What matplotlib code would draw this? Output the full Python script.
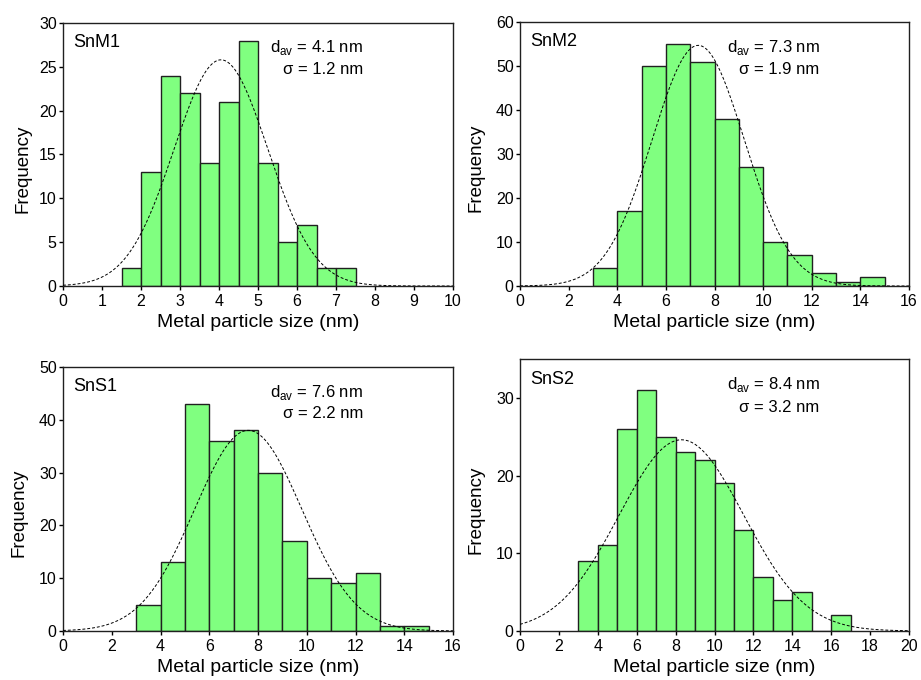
import numpy as np
import matplotlib
matplotlib.use("Agg")
import matplotlib.pyplot as plt

plt.rcParams['font.family'] = ['Liberation Sans', 'DejaVu Sans']

# ---- data ----
names = ["SnM1", "SnM2", "SnS1", "SnS2"]
d_av = ["4.1", "7.3", "7.6", "8.4"]
sigma_txt = ["1.2", "1.9", "2.2", "3.2"]

snm1_edges = [1.5, 2.0, 2.5, 3.0, 3.5, 4.0, 4.5, 5.0, 5.5, 6.0, 6.5, 7.0, 7.5]
snm1_counts = [2, 13, 24, 22, 14, 21, 28, 14, 5, 7, 2, 2]

snm2_edges = [3, 4, 5, 6, 7, 8, 9, 10, 11, 12, 13, 14, 15]
snm2_counts = [4, 17, 50, 55, 51, 38, 27, 10, 7, 3, 1, 2]

sns1_edges = [3, 4, 5, 6, 7, 8, 9, 10, 11, 12, 13, 14, 15]
sns1_counts = [5, 13, 43, 36, 38, 30, 17, 10, 9, 11, 1, 1]

sns2_edges = [3, 4, 5, 6, 7, 8, 9, 10, 11, 12, 13, 14, 15, 16, 17]
sns2_counts = [9, 11, 26, 31, 25, 23, 22, 19, 13, 7, 4, 5, 0, 2]

# gaussian fit parameters (mean, sigma, amplitude)
fit_mean = [4.05, 7.33, 7.6, 8.3]
fit_sigma = [1.2, 1.9, 2.2, 3.2]
fit_amp = [25.8, 54.7, 38.0, 24.6]

xlims = [(0, 10), (0, 16), (0, 16), (0, 20)]
xticks = [list(range(0, 11, 1)), list(range(0, 17, 2)), list(range(0, 17, 2)), list(range(0, 21, 2))]
ylims = [(0, 30), (0, 60), (0, 50), (0, 35)]
yticks = [list(range(0, 31, 5)), list(range(0, 61, 10)), list(range(0, 51, 10)), [0, 10, 20, 30]]

edges_all = [snm1_edges, snm2_edges, sns1_edges, sns2_edges]
counts_all = [snm1_counts, snm2_counts, sns1_counts, sns2_counts]

positions = [
    [0.0684, 0.5794, 0.4235, 0.3868],
    [0.5646, 0.5794, 0.4224, 0.3882],
    [0.0684, 0.0721, 0.4235, 0.3882],
    [0.5646, 0.0721, 0.4224, 0.4000],
]
ylabel_x = [-0.080, -0.090, -0.090, -0.090]

fig = plt.figure(figsize=(9.21, 6.80), dpi=100)

for i in range(4):
    ax = fig.add_axes(positions[i])
    e = np.array(edges_all[i], dtype=float)
    c = np.array(counts_all[i], dtype=float)
    ax.bar(e[:-1], c, width=np.diff(e), align='edge', color='#80FF80',
           edgecolor='#202020', linewidth=1.0, zorder=2)
    x = np.linspace(xlims[i][0], xlims[i][1], 400)
    y = fit_amp[i] * np.exp(-0.5 * ((x - fit_mean[i]) / fit_sigma[i]) ** 2)
    ax.plot(x, y, color='black', linestyle=(0, (3, 2)), linewidth=0.7, zorder=3)
    ax.set_xlim(*xlims[i])
    ax.set_ylim(*ylims[i])
    ax.set_xticks(xticks[i])
    ax.set_yticks(yticks[i])
    ax.tick_params(axis='both', which='both', direction='out', length=3,
                   width=1, labelsize=11.5, top=False, right=False)
    ax.tick_params(axis='x', pad=2.5)
    ax.tick_params(axis='y', pad=1.5)
    for s in ax.spines.values():
        s.set_linewidth(1.0)
        s.set_color('#202020')
    ax.set_xlabel("Metal particle size (nm)", fontsize=14, labelpad=4)
    ax.set_ylabel("Frequency", fontsize=13.5)
    ax.yaxis.set_label_coords(ylabel_x[i], 0.446)
    ax.text(0.026, 0.925, names[i], transform=ax.transAxes, fontsize=13,
            ha='left', va='center')
    ax.text(0.77, 0.905, r"d$_{\mathregular{av}}$ = %s nm" % d_av[i], transform=ax.transAxes,
            fontsize=12, ha='right', va='center')
    ax.text(0.77, 0.822, "\u03c3 = %s nm" % sigma_txt[i], transform=ax.transAxes,
            fontsize=12, ha='right', va='center')

fig.savefig("out.png", dpi=100)
